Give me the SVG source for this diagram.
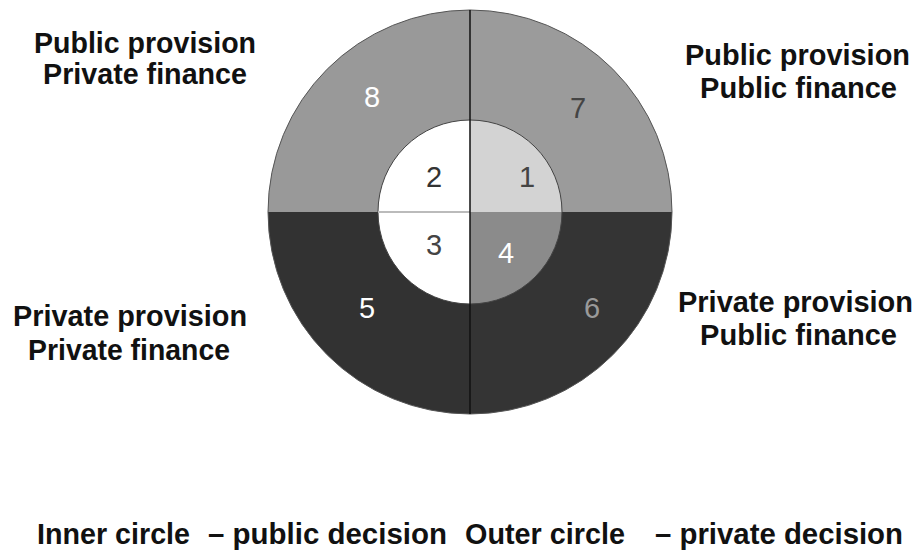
<svg xmlns="http://www.w3.org/2000/svg" width="920" height="551" viewBox="0 0 920 551">
<style>
.lbl{font-family:"Liberation Sans",Arial,sans-serif;font-weight:bold;font-size:30px;fill:#111;}
.cap{font-family:"Liberation Sans",Arial,sans-serif;font-weight:bold;font-size:29px;fill:#111;}
.num{font-family:"Liberation Sans",Arial,sans-serif;font-size:29px;text-anchor:middle;}
.seg{stroke:none;}
</style>
<rect width="920" height="551" fill="#ffffff"/>
<g id="outer-7"><path class="seg" d="M470,212 L470,10 A202,202 0 0 1 672,212 Z" fill="#9b9b9b"/><text class="num" x="578" y="118" fill="#444">7</text></g>
<g id="outer-6"><path class="seg" d="M470,212 L672,212 A202,202 0 0 1 470,414 Z" fill="#343434"/><text class="num" x="592" y="318" fill="#9a9a9a">6</text></g>
<g id="outer-5"><path class="seg" d="M470,212 L470,414 A202,202 0 0 1 268,212 Z" fill="#323232"/><text class="num" x="367" y="318" fill="#fff">5</text></g>
<g id="outer-8"><path class="seg" d="M470,212 L268,212 A202,202 0 0 1 470,10 Z" fill="#999999"/><text class="num" x="372" y="107" fill="#fff">8</text></g>
<circle cx="470" cy="212" r="202" fill="none" stroke="#555" stroke-width="1"/>
<g id="inner-1"><path class="seg" d="M470,212 L470,120 A92,92 0 0 1 562,212 Z" fill="#d3d3d3"/><text class="num" x="527" y="187" fill="#444">1</text></g>
<g id="inner-4"><path class="seg" d="M470,212 L562,212 A92,92 0 0 1 470,304 Z" fill="#8b8b8b"/><text class="num" x="506" y="263" fill="#fff">4</text></g>
<g id="inner-3"><path class="seg" d="M470,212 L470,304 A92,92 0 0 1 378,212 Z" fill="#ffffff"/><text class="num" x="434" y="255" fill="#444">3</text></g>
<g id="inner-2"><path class="seg" d="M470,212 L378,212 A92,92 0 0 1 470,120 Z" fill="#ffffff"/><text class="num" x="434" y="187" fill="#333">2</text></g>
<g id="connectors">
<circle cx="470" cy="212" r="92" fill="none" stroke="#444" stroke-width="1"/>
<line x1="378" y1="212" x2="470" y2="212" stroke="#bbbbbb" stroke-width="2"/>
<line x1="470" y1="10" x2="470" y2="414" stroke="#111" stroke-width="1.5"/>
</g>
<g id="label-tl"><text class="lbl" x="34" y="53" textLength="222" lengthAdjust="spacingAndGlyphs">Public provision</text><text class="lbl" x="43" y="84" textLength="204" lengthAdjust="spacingAndGlyphs">Private finance</text></g>
<g id="label-tr"><text class="lbl" x="685" y="65" textLength="225" lengthAdjust="spacingAndGlyphs">Public provision</text><text class="lbl" x="700" y="98" textLength="197" lengthAdjust="spacingAndGlyphs">Public finance</text></g>
<g id="label-bl"><text class="lbl" x="13" y="326" textLength="234" lengthAdjust="spacingAndGlyphs">Private provision</text><text class="lbl" x="28" y="360" textLength="202" lengthAdjust="spacingAndGlyphs">Private finance</text></g>
<g id="label-br"><text class="lbl" x="678" y="312" textLength="235" lengthAdjust="spacingAndGlyphs">Private provision</text><text class="lbl" x="700" y="345" textLength="197" lengthAdjust="spacingAndGlyphs">Public finance</text></g>
<g id="caption">
<text class="cap" x="37" y="544" textLength="153" lengthAdjust="spacingAndGlyphs">Inner circle</text>
<text class="cap" x="208" y="544" textLength="239" lengthAdjust="spacingAndGlyphs">– public decision</text>
<text class="cap" x="465" y="544" textLength="160" lengthAdjust="spacingAndGlyphs">Outer circle</text>
<text class="cap" x="655" y="544" textLength="248" lengthAdjust="spacingAndGlyphs">– private decision</text>
</g>
</svg>
